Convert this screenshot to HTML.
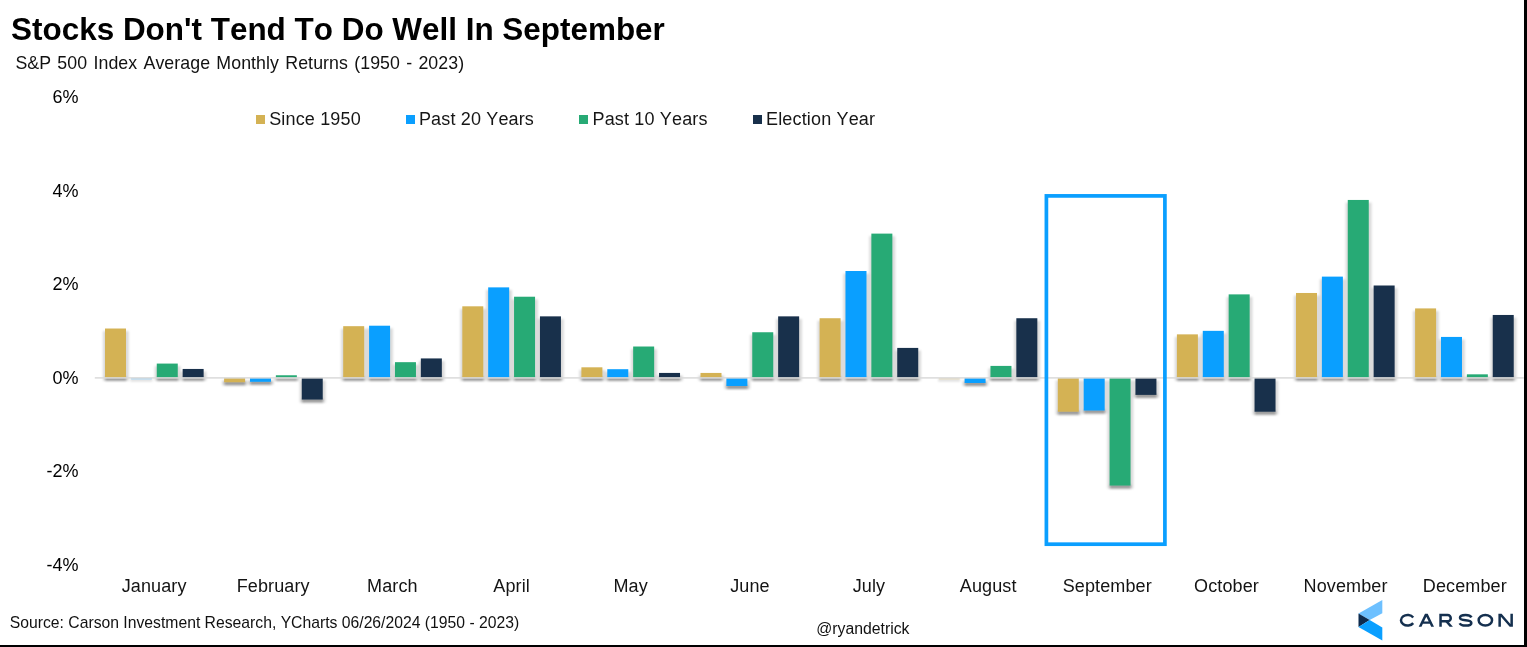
<!DOCTYPE html>
<html><head><meta charset="utf-8"><title>Stocks Don't Tend To Do Well In September</title>
<style>
html,body{margin:0;padding:0;background:#fff;}
body{width:1527px;height:647px;position:relative;overflow:hidden;font-family:"Liberation Sans",sans-serif;color:#000;font-kerning:none;}
.t{position:absolute;white-space:nowrap;line-height:1;}
.yl{position:absolute;white-space:nowrap;line-height:1;font-size:18px;width:80px;text-align:right;left:-1.4px;}
.ml{position:absolute;white-space:nowrap;line-height:1;font-size:18px;width:140px;text-align:center;top:577.3px;color:#141414;letter-spacing:0.12px;}
.lg{position:absolute;white-space:nowrap;line-height:1;font-size:18px;top:110.4px;color:#161616;letter-spacing:0.16px;}
.sw{position:absolute;width:9.2px;height:9.2px;top:115px;}
.br{position:absolute;right:0;top:0;width:3px;height:647px;background:#000;}
.bb{position:absolute;left:0;bottom:0;width:1527px;height:2px;background:#000;}
#w{position:absolute;left:0;top:0;width:1527px;height:647px;will-change:transform;}
</style></head><body><div id="w">
<div class="t" id="title" style="left:11.1px;top:14.1px;font-size:31.45px;font-weight:bold;">Stocks Don't Tend To Do Well In September</div>
<div class="t" id="sub" style="left:15.4px;top:55.1px;font-size:17.75px;letter-spacing:0.08px;word-spacing:1.2px;color:#111;">S&amp;P 500 Index Average Monthly Returns (1950 - 2023)</div>
<div class="yl" style="top:88.0px;">6%</div>
<div class="yl" style="top:181.5px;">4%</div>
<div class="yl" style="top:275.0px;">2%</div>
<div class="yl" style="top:368.5px;">0%</div>
<div class="yl" style="top:462.0px;">-2%</div>
<div class="yl" style="top:555.5px;">-4%</div>
<div class="sw" style="left:255.6px;background:#D4B254;"></div><div class="lg" style="left:269.2px;">Since 1950</div>
<div class="sw" style="left:405.6px;background:#0A9FFF;"></div><div class="lg" style="left:418.9px;">Past 20 Years</div>
<div class="sw" style="left:579.3px;background:#27AA75;"></div><div class="lg" style="left:592.5px;">Past 10 Years</div>
<div class="sw" style="left:752.5px;background:#18304B;"></div><div class="lg" style="left:766.0px;">Election Year</div>
<svg id="chart" style="position:absolute;left:0;top:0;" width="1527" height="647" viewBox="0 0 1527 647">
<defs><filter id="f1" x="-5%" y="-5%" width="110%" height="110%"><feGaussianBlur stdDeviation="1"/></filter><filter id="f2" x="-5%" y="-5%" width="110%" height="110%"><feGaussianBlur stdDeviation="0.85"/></filter></defs>
<g filter="url(#f1)" fill="#000" fill-opacity="0.145">
<rect x="102.90" y="331.11" width="25.90" height="49.74"/>
<rect x="130.38" y="379.05" width="22.00" height="2.4"/>
<rect x="154.66" y="366.18" width="25.90" height="14.67"/>
<rect x="180.54" y="371.55" width="25.90" height="9.30"/>
<rect x="222.00" y="380.45" width="25.90" height="4.83"/>
<rect x="247.88" y="380.45" width="25.90" height="4.36"/>
<rect x="273.76" y="377.86" width="25.90" height="2.99"/>
<rect x="299.64" y="380.45" width="25.90" height="22.12"/>
<rect x="341.10" y="328.78" width="25.90" height="52.08"/>
<rect x="366.98" y="328.31" width="25.90" height="52.54"/>
<rect x="392.86" y="364.77" width="25.90" height="16.08"/>
<rect x="418.74" y="361.03" width="25.90" height="19.82"/>
<rect x="460.20" y="308.91" width="25.90" height="71.94"/>
<rect x="486.08" y="289.97" width="25.90" height="90.88"/>
<rect x="511.96" y="299.32" width="25.90" height="81.53"/>
<rect x="537.84" y="318.96" width="25.90" height="61.89"/>
<rect x="579.30" y="369.92" width="25.90" height="10.94"/>
<rect x="605.18" y="371.79" width="25.90" height="9.07"/>
<rect x="631.06" y="349.11" width="25.90" height="31.74"/>
<rect x="656.94" y="375.53" width="25.90" height="5.33"/>
<rect x="698.40" y="375.53" width="25.90" height="5.33"/>
<rect x="724.28" y="380.45" width="25.90" height="8.57"/>
<rect x="750.16" y="334.85" width="25.90" height="46.00"/>
<rect x="776.04" y="318.96" width="25.90" height="61.89"/>
<rect x="817.50" y="320.83" width="25.90" height="60.02"/>
<rect x="843.38" y="273.61" width="25.90" height="107.24"/>
<rect x="869.26" y="236.21" width="25.90" height="144.64"/>
<rect x="895.14" y="350.51" width="25.90" height="30.34"/>
<rect x="938.20" y="379.05" width="22.00" height="2.4"/>
<rect x="962.48" y="380.45" width="25.90" height="5.53"/>
<rect x="988.36" y="368.51" width="25.90" height="12.34"/>
<rect x="1014.24" y="320.83" width="25.90" height="60.02"/>
<rect x="1055.70" y="380.45" width="25.90" height="34.28"/>
<rect x="1081.58" y="380.45" width="25.90" height="33.11"/>
<rect x="1107.46" y="380.45" width="25.90" height="108.14"/>
<rect x="1133.34" y="380.45" width="25.90" height="17.45"/>
<rect x="1174.80" y="336.96" width="25.90" height="43.89"/>
<rect x="1200.68" y="333.45" width="25.90" height="47.40"/>
<rect x="1226.56" y="296.99" width="25.90" height="83.87"/>
<rect x="1252.44" y="380.45" width="25.90" height="34.28"/>
<rect x="1293.90" y="295.58" width="25.90" height="85.27"/>
<rect x="1319.78" y="279.22" width="25.90" height="101.63"/>
<rect x="1345.66" y="202.55" width="25.90" height="178.30"/>
<rect x="1371.54" y="288.10" width="25.90" height="92.75"/>
<rect x="1413.00" y="311.01" width="25.90" height="69.84"/>
<rect x="1438.88" y="339.53" width="25.90" height="41.32"/>
<rect x="1464.76" y="376.93" width="25.90" height="3.92"/>
<rect x="1490.64" y="317.56" width="25.90" height="63.29"/>
</g>
<g filter="url(#f2)" fill="#000" fill-opacity="0.30">
<rect x="105.30" y="376.85" width="21.00" height="4.00"/>
<rect x="157.06" y="376.85" width="21.00" height="4.00"/>
<rect x="182.94" y="376.85" width="21.00" height="4.00"/>
<rect x="224.40" y="381.28" width="21.00" height="4.00"/>
<rect x="250.28" y="380.85" width="21.00" height="3.96"/>
<rect x="276.16" y="378.26" width="21.00" height="2.59"/>
<rect x="302.04" y="398.57" width="21.00" height="4.00"/>
<rect x="343.50" y="376.85" width="21.00" height="4.00"/>
<rect x="369.38" y="376.85" width="21.00" height="4.00"/>
<rect x="395.26" y="376.85" width="21.00" height="4.00"/>
<rect x="421.14" y="376.85" width="21.00" height="4.00"/>
<rect x="462.60" y="376.85" width="21.00" height="4.00"/>
<rect x="488.48" y="376.85" width="21.00" height="4.00"/>
<rect x="514.36" y="376.85" width="21.00" height="4.00"/>
<rect x="540.24" y="376.85" width="21.00" height="4.00"/>
<rect x="581.70" y="376.85" width="21.00" height="4.00"/>
<rect x="607.58" y="376.85" width="21.00" height="4.00"/>
<rect x="633.46" y="376.85" width="21.00" height="4.00"/>
<rect x="659.34" y="376.85" width="21.00" height="4.00"/>
<rect x="700.80" y="376.85" width="21.00" height="4.00"/>
<rect x="726.68" y="385.02" width="21.00" height="4.00"/>
<rect x="752.56" y="376.85" width="21.00" height="4.00"/>
<rect x="778.44" y="376.85" width="21.00" height="4.00"/>
<rect x="819.90" y="376.85" width="21.00" height="4.00"/>
<rect x="845.78" y="376.85" width="21.00" height="4.00"/>
<rect x="871.66" y="376.85" width="21.00" height="4.00"/>
<rect x="897.54" y="376.85" width="21.00" height="4.00"/>
<rect x="964.88" y="381.98" width="21.00" height="4.00"/>
<rect x="990.76" y="376.85" width="21.00" height="4.00"/>
<rect x="1016.64" y="376.85" width="21.00" height="4.00"/>
<rect x="1058.10" y="410.73" width="21.00" height="4.00"/>
<rect x="1083.98" y="409.56" width="21.00" height="4.00"/>
<rect x="1109.86" y="484.59" width="21.00" height="4.00"/>
<rect x="1135.74" y="393.90" width="21.00" height="4.00"/>
<rect x="1177.20" y="376.85" width="21.00" height="4.00"/>
<rect x="1203.08" y="376.85" width="21.00" height="4.00"/>
<rect x="1228.96" y="376.85" width="21.00" height="4.00"/>
<rect x="1254.84" y="410.73" width="21.00" height="4.00"/>
<rect x="1296.30" y="376.85" width="21.00" height="4.00"/>
<rect x="1322.18" y="376.85" width="21.00" height="4.00"/>
<rect x="1348.06" y="376.85" width="21.00" height="4.00"/>
<rect x="1373.94" y="376.85" width="21.00" height="4.00"/>
<rect x="1415.40" y="376.85" width="21.00" height="4.00"/>
<rect x="1441.28" y="376.85" width="21.00" height="4.00"/>
<rect x="1467.16" y="377.33" width="21.00" height="3.52"/>
<rect x="1493.04" y="376.85" width="21.00" height="4.00"/>
</g>
<g>
<rect x="105.00" y="328.51" width="21.0" height="49.34" fill="#D4B254"/>
<rect x="130.88" y="377.85" width="21.0" height="1.6" fill="#0A9FFF" fill-opacity="0.33"/>
<rect x="156.76" y="363.58" width="21.0" height="14.27" fill="#27AA75"/>
<rect x="182.64" y="368.95" width="21.0" height="8.90" fill="#18304B"/>
<rect x="224.10" y="377.85" width="21.0" height="4.43" fill="#D4B254"/>
<rect x="249.98" y="377.85" width="21.0" height="3.96" fill="#0A9FFF"/>
<rect x="275.86" y="375.26" width="21.0" height="2.59" fill="#27AA75"/>
<rect x="301.74" y="377.85" width="21.0" height="21.72" fill="#18304B"/>
<rect x="343.20" y="326.18" width="21.0" height="51.68" fill="#D4B254"/>
<rect x="369.08" y="325.71" width="21.0" height="52.14" fill="#0A9FFF"/>
<rect x="394.96" y="362.17" width="21.0" height="15.68" fill="#27AA75"/>
<rect x="420.84" y="358.43" width="21.0" height="19.42" fill="#18304B"/>
<rect x="462.30" y="306.31" width="21.0" height="71.54" fill="#D4B254"/>
<rect x="488.18" y="287.37" width="21.0" height="90.48" fill="#0A9FFF"/>
<rect x="514.06" y="296.72" width="21.0" height="81.13" fill="#27AA75"/>
<rect x="539.94" y="316.36" width="21.0" height="61.49" fill="#18304B"/>
<rect x="581.40" y="367.31" width="21.0" height="10.54" fill="#D4B254"/>
<rect x="607.28" y="369.19" width="21.0" height="8.67" fill="#0A9FFF"/>
<rect x="633.16" y="346.51" width="21.0" height="31.34" fill="#27AA75"/>
<rect x="659.04" y="372.93" width="21.0" height="4.93" fill="#18304B"/>
<rect x="700.50" y="372.93" width="21.0" height="4.93" fill="#D4B254"/>
<rect x="726.38" y="377.85" width="21.0" height="8.17" fill="#0A9FFF"/>
<rect x="752.26" y="332.25" width="21.0" height="45.60" fill="#27AA75"/>
<rect x="778.14" y="316.36" width="21.0" height="61.49" fill="#18304B"/>
<rect x="819.60" y="318.23" width="21.0" height="59.62" fill="#D4B254"/>
<rect x="845.48" y="271.01" width="21.0" height="106.84" fill="#0A9FFF"/>
<rect x="871.36" y="233.61" width="21.0" height="144.24" fill="#27AA75"/>
<rect x="897.24" y="347.91" width="21.0" height="29.94" fill="#18304B"/>
<rect x="938.70" y="377.85" width="21.0" height="1.6" fill="#D4B254" fill-opacity="0.33"/>
<rect x="964.58" y="377.85" width="21.0" height="5.13" fill="#0A9FFF"/>
<rect x="990.46" y="365.91" width="21.0" height="11.94" fill="#27AA75"/>
<rect x="1016.34" y="318.23" width="21.0" height="59.62" fill="#18304B"/>
<rect x="1057.80" y="377.85" width="21.0" height="33.88" fill="#D4B254"/>
<rect x="1083.68" y="377.85" width="21.0" height="32.71" fill="#0A9FFF"/>
<rect x="1109.56" y="377.85" width="21.0" height="107.74" fill="#27AA75"/>
<rect x="1135.44" y="377.85" width="21.0" height="17.05" fill="#18304B"/>
<rect x="1176.90" y="334.36" width="21.0" height="43.49" fill="#D4B254"/>
<rect x="1202.78" y="330.85" width="21.0" height="47.00" fill="#0A9FFF"/>
<rect x="1228.66" y="294.38" width="21.0" height="83.47" fill="#27AA75"/>
<rect x="1254.54" y="377.85" width="21.0" height="33.88" fill="#18304B"/>
<rect x="1296.00" y="292.98" width="21.0" height="84.87" fill="#D4B254"/>
<rect x="1321.88" y="276.62" width="21.0" height="101.23" fill="#0A9FFF"/>
<rect x="1347.76" y="199.95" width="21.0" height="177.90" fill="#27AA75"/>
<rect x="1373.64" y="285.50" width="21.0" height="92.35" fill="#18304B"/>
<rect x="1415.10" y="308.41" width="21.0" height="69.44" fill="#D4B254"/>
<rect x="1440.98" y="336.93" width="21.0" height="40.92" fill="#0A9FFF"/>
<rect x="1466.86" y="374.33" width="21.0" height="3.52" fill="#27AA75"/>
<rect x="1492.74" y="314.96" width="21.0" height="62.89" fill="#18304B"/>
</g>
<rect x="94.8" y="377.15" width="1429" height="1.5" fill="#dadada"/>
<rect x="1046.4" y="195.9" width="118.5" height="348.3" fill="none" stroke="#0A9FFF" stroke-width="3.7"/>
</svg>
<div class="ml" style="left:84.1px;">January</div>
<div class="ml" style="left:203.2px;">February</div>
<div class="ml" style="left:322.4px;">March</div>
<div class="ml" style="left:441.6px;">April</div>
<div class="ml" style="left:560.7px;">May</div>
<div class="ml" style="left:679.9px;">June</div>
<div class="ml" style="left:799.0px;">July</div>
<div class="ml" style="left:918.2px;">August</div>
<div class="ml" style="left:1037.3px;">September</div>
<div class="ml" style="left:1156.5px;">October</div>
<div class="ml" style="left:1275.6px;">November</div>
<div class="ml" style="left:1394.8px;">December</div>
<div class="t" id="src" style="left:9.8px;top:615.0px;font-size:15.72px;color:#111;">Source: Carson Investment Research, YCharts 06/26/2024 (1950 - 2023)</div>
<div class="t" id="tw" style="left:816.2px;top:620.8px;font-size:15.8px;color:#111;">@ryandetrick</div>
<svg id="logo" style="position:absolute;left:1350px;top:595px;" width="174" height="50" viewBox="1350 595 174 50">
<polygon points="1382.3,600 1382.3,613.2 1369.7,620.1 1358.5,613.5" fill="#6DC0FF"/>
<polygon points="1358.5,613.5 1369.7,620.1 1358.5,627.1" fill="#0D2B4E"/>
<polygon points="1369.7,620.1 1382.3,627.5 1382.3,640.6 1358.5,627.1" fill="#0A9FFF"/>
<g fill="none" stroke="#15304F" stroke-width="2.5">
<path d="M1413.2,617.45 A6.65,5.25 0 1 0 1413.2,623.15"/>
<path d="M1440.55,626.8 V615.05 H1447.6 A3.15,3.15 0 0 1 1447.6,621.35 H1440.55"/>
<path d="M1471.5,617.4 C1470.6,615.8 1468.4,615.05 1465.6,615.05 C1462.3,615.05 1460.0,616.0 1460.0,617.8 C1460.0,619.6 1462.6,620.0 1465.6,620.3 C1468.8,620.6 1471.35,621.1 1471.35,622.9 C1471.35,624.7 1468.9,625.55 1465.6,625.55 C1462.6,625.55 1460.4,624.7 1459.7,623.2"/>
<ellipse cx="1485.35" cy="620.3" rx="6.7" ry="5.25"/>
</g>
<g fill="#15304F" fill-rule="evenodd">
<path d="M1418.7,626.8 L1425.0,613.8 L1427.7,613.8 L1434.0,626.8 L1431.2,626.8 L1429.8,623.8 L1422.9,623.8 L1421.5,626.8 Z M1424.0,621.6 L1426.35,616.76 L1428.7,621.6 Z"/>
<path d="M1445.0,621.4 L1448.3,621.4 L1452.9,626.8 L1449.6,626.8 Z"/>
<path d="M1498.4,613.8 H1501.6 L1510.4,623.9 V613.8 H1512.9 V626.8 H1509.7 L1500.9,616.7 V626.8 H1498.4 Z"/>
</g>
</svg>
<div class="br"></div><div class="bb"></div>
</div></body></html>
